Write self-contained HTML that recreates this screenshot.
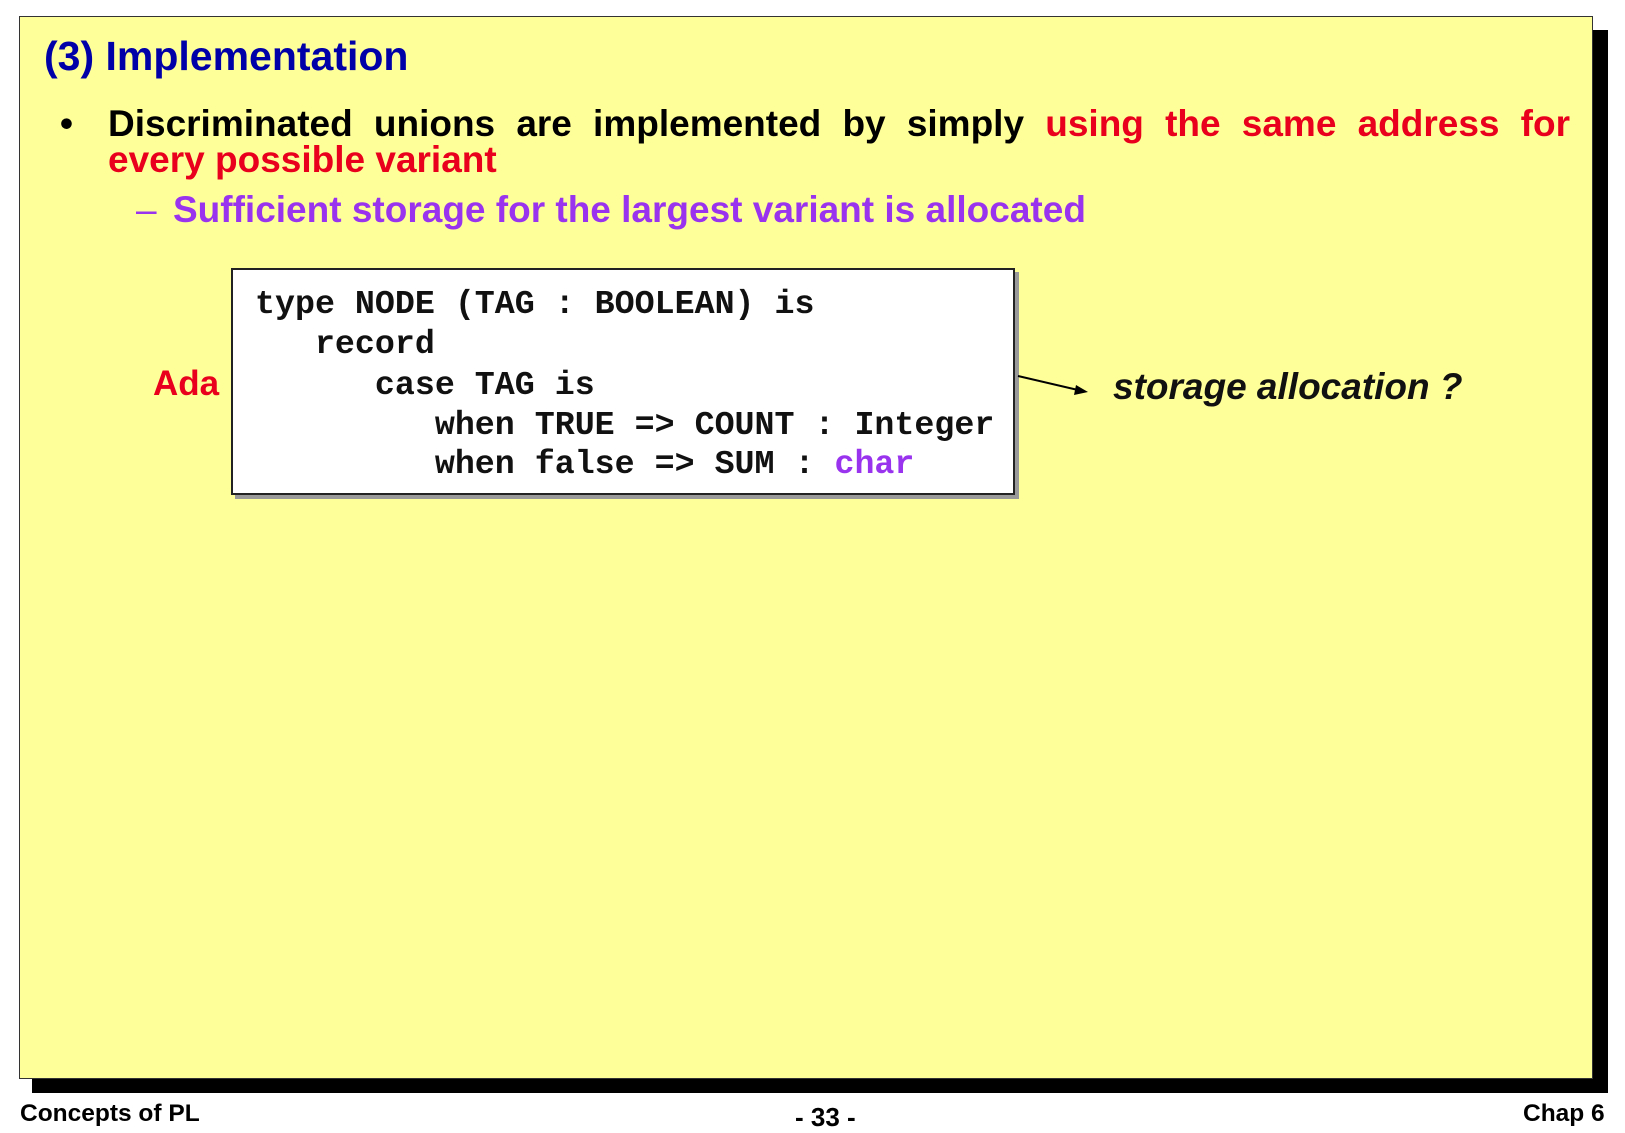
<!DOCTYPE html>
<html><head><meta charset="utf-8"><style>
html,body{margin:0;padding:0;background:#fff;}
body{width:1625px;height:1125px;position:relative;overflow:hidden;font-family:"Liberation Sans",Arial,sans-serif;}
.abs{position:absolute;white-space:nowrap;}
.shadow{position:absolute;left:32px;top:30px;width:1576px;height:1063px;background:#000;}
.frame{position:absolute;left:19px;top:16px;width:1574px;height:1063px;background:#ffff99;border:1px solid #333;box-sizing:border-box;}
.title{left:44px;top:33px;font-size:41px;font-weight:bold;color:#0000a8;}
.b{font-weight:bold;font-size:37px;}
.code{position:absolute;left:231px;top:268px;width:784px;height:227px;background:#fff;border:2px solid #222;box-sizing:border-box;box-shadow:4px 4px 0 #999;}
.cl{position:absolute;font-family:"Liberation Mono","Courier New",monospace;font-weight:bold;font-size:33.3px;white-space:pre;color:#111;}
.ft{font-size:24.5px;font-weight:bold;}
</style></head><body>
<div class="shadow"></div>
<div class="frame"></div>
<div class="abs title">(3) Implementation</div>
<div class="abs b" style="left:60px;top:103px;">•</div>
<div class="abs b" style="left:108px;top:103px;width:1462px;text-align:justify;text-align-last:justify;white-space:normal;">Discriminated unions are implemented by simply <span style="color:#e8001c">using the same address for</span></div>
<div class="abs b" style="left:108px;top:139px;color:#e8001c;">every possible variant</div>
<div class="abs b" style="left:136px;top:189px;color:#9933ee;font-weight:normal;">–</div>
<div class="abs b" style="left:173px;top:189px;color:#9933ee;">Sufficient storage for the largest variant is allocated</div>
<div class="abs b" style="left:153px;top:364px;color:#e8001c;font-size:35px;">Ada</div>
<div class="code"></div>
<div class="cl" style="left:255px;top:285px;">type NODE (TAG : BOOLEAN) is</div>
<div class="cl" style="left:255px;top:325px;">   record</div>
<div class="cl" style="left:255px;top:366px;">      case TAG is</div>
<div class="cl" style="left:255px;top:406px;">         when TRUE =&gt; COUNT : Integer</div>
<div class="cl" style="left:255px;top:445px;">         when false =&gt; SUM : <span style="color:#9933ee">char</span></div>
<svg class="abs" style="left:0;top:0" width="1625" height="1125">
<line x1="1018" y1="376" x2="1078" y2="390" stroke="#000" stroke-width="2"/>
<polygon points="1088,392 1076,385 1074,395" fill="#000"/>
</svg>
<div class="abs b" style="left:1113px;top:366px;font-style:italic;font-size:37px;color:#111;">storage allocation ?</div>
<div class="abs ft" style="left:20px;top:1100px;">Concepts of PL</div>
<div class="abs ft" style="left:795px;top:1102px;font-size:26px;">- 33 -</div>
<div class="abs ft" style="left:1523px;top:1100px;">Chap 6</div>
</body></html>
